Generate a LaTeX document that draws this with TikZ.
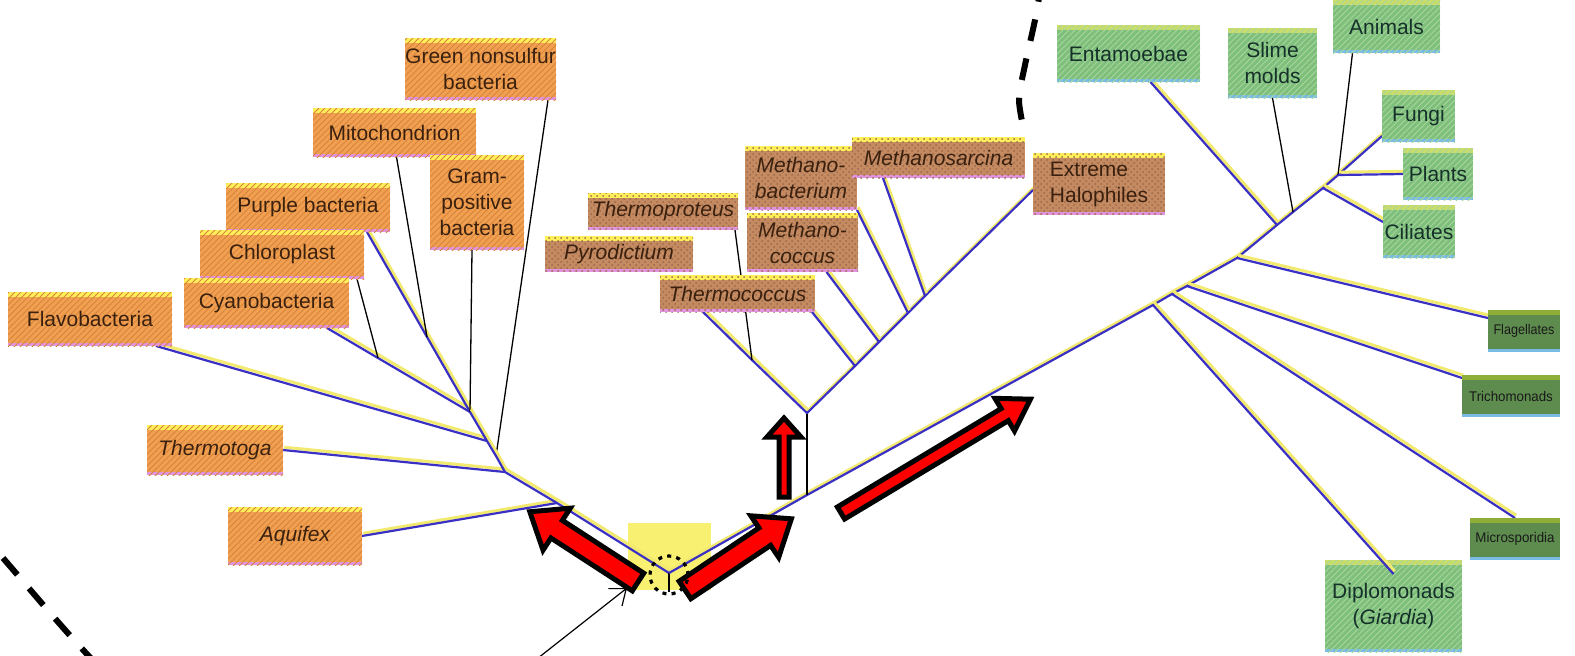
\documentclass[tikz,border=0pt]{standalone}
\usepackage{fontspec}
\setmainfont{Liberation Sans}
\usetikzlibrary{patterns,fit,arrows.meta,calc}
\pgfdeclarelayer{bg}
\pgfsetlayers{bg,main}
\definecolor{bfill}{HTML}{F0A050}
\definecolor{bhatch}{HTML}{D8843C}
\definecolor{afill}{HTML}{C48A62}
\definecolor{ahatch}{HTML}{9E6A48}
\definecolor{efill}{HTML}{7EBF7C}
\definecolor{ehatch}{HTML}{A8D69C}
\definecolor{dfill}{HTML}{5E8C4E}
\definecolor{topy}{HTML}{FFF05A}
\definecolor{botp}{HTML}{E094E0}
\definecolor{bote}{HTML}{78BCE4}
\definecolor{treeblue}{HTML}{3A30C4}
\definecolor{shadowy}{HTML}{F2EA6E}
\definecolor{rootyellow}{HTML}{F8F070}
\definecolor{txtb}{HTML}{3A200E}
\definecolor{txte}{HTML}{16302A}
\newcommand\lbl{\fontsize{10.5}{13}\selectfont}
\newcommand\redarrow[7]{%
  \begin{scope}[shift={(#1,#2)}, rotate=#3]
    \draw[bigarr] (0,-#5/2) -- ({#4-#7},-#5/2) -- ({#4-#7},-#6/2) -- (#4,0)
      -- ({#4-#7},#6/2) -- ({#4-#7},#5/2) -- (0,#5/2) -- cycle;
  \end{scope}}
\tikzset{
  boxbase/.style={inner sep=0pt, outer sep=0pt},
  stripes/.style 2 args={path picture={
      \fill[#1] (path picture bounding box.north west) rectangle ([yshift=-2.5pt]path picture bounding box.north east);
      \fill[#2] (path picture bounding box.south west) rectangle ([yshift=1.5pt]path picture bounding box.south east);}},
  bact/.style={boxbase, fill=bfill, postaction={pattern=north east lines, pattern color=bhatch}, stripes={topy}{botp}},
  arch/.style={boxbase, fill=afill, postaction={pattern=crosshatch dots, pattern color=ahatch}, stripes={topy}{botp}},
  euk/.style={boxbase, fill=efill, postaction={pattern=north east lines, pattern color=ehatch}, stripes={topy!60!efill}{bote}},
  dark/.style={boxbase, fill=dfill, stripes={dfill!70!yellow}{bote}},
  bt/.style={align=center, inner sep=0pt, font=\lbl, text=txtb},
  bti/.style={bt, font=\lbl\itshape},
  et/.style={align=center, inner sep=0pt, font=\lbl, text=txte},
  dt/.style={align=center, inner sep=0pt, font=\fontsize{7}{8}\selectfont, text=black!90},
  tb/.style={draw=treeblue, line width=1.1pt, line join=round,
    preaction={draw=shadowy, line width=1.5pt, transform canvas={xshift=0.6pt,yshift=1.4pt}}},
  tk/.style={draw=black, line width=0.65pt},
  bigarr/.style={fill=red, draw=black, line width=2.5pt, line join=miter},
  bigdash/.style={draw=black, line width=3pt, dash pattern=on 11pt off 9pt},
}
\begin{document}
\begin{tikzpicture}[x=0.5pt,y=-0.5pt]
\useasboundingbox (0,0) rectangle (1575,655);

% ---------- boxes: Bacteria ----------
\node[bact, fit={(405,38) (556,100)}, label={[bt]center:Green nonsulfur\\bacteria}] (gns) {};
\node[bact, fit={(313,108) (476,157)}, label={[bt]center:Mitochondrion}] (mito) {};
\node[bact, fit={(430,155) (524,250)}, label={[bt]center:Gram-\\positive\\bacteria}] (gram) {};
\node[bact, fit={(226,183) (390,232)}, label={[bt]center:Purple bacteria}] (purple) {};
\node[bact, fit={(200,230) (364,279)}, label={[bt]center:Chloroplast}] (chloro) {};
\node[bact, fit={(184,278) (349,328)}, label={[bt]center:Cyanobacteria}] (cyano) {};
\node[bact, fit={(8,292) (172,346)}, label={[bt]center:Flavobacteria}] (flavo) {};
\node[bact, fit={(147,425) (283,475)}, label={[bti]center:Thermotoga}] (tmtoga) {};
\node[bact, fit={(228,507) (362,565)}, label={[bti]center:Aquifex}] (aquifex) {};

% ---------- boxes: Archaea ----------
\node[arch, fit={(588,193) (738,230)}, label={[bti]center:Thermoproteus}] (tproteus) {};
\node[arch, fit={(545,236) (693,272)}, label={[bti]center:Pyrodictium}] (pyro) {};
\node[arch, fit={(660,275) (815,312)}, label={[bti]center:Thermococcus}] (tcoccus) {};
\node[arch, fit={(745,146) (857,210)}, label={[bti]center:Methano-\\bacterium}] (mbact) {};
\node[arch, fit={(747,213) (858,272)}, label={[bti]center:Methano-\\coccus}] (mcoccus) {};
\node[arch, fit={(852,137) (1025,178)}, label={[bti]center:Methanosarcina}] (msarc) {};
\node[arch, fit={(1033,153) (1165,215)}, label={[bt,align=left]center:Extreme\\Halophiles}] (halo) {};

% ---------- boxes: Eukarya ----------
\node[euk, fit={(1057,25) (1200,82)}, label={[et]center:Entamoebae}] (ent) {};
\node[euk, fit={(1228,28) (1317,98)}, label={[et]center:Slime\\molds}] (slime) {};
\node[euk, fit={(1333,0) (1440,53)}, label={[et]center:Animals}] (animals) {};
\node[euk, fit={(1382,90) (1455,142)}, label={[et]center:Fungi}] (fungi) {};
\node[euk, fit={(1403,148) (1473,200)}, label={[et]center:Plants}] (plants) {};
\node[euk, fit={(1383,205) (1455,258)}, label={[et]center:Ciliates}] (cil) {};
\node[dark, fit={(1488,310) (1560,352)}, label={[dt]center:\scalebox{0.9}[1]{Flagellates}}] (flag) {};
\node[dark, fit={(1462,375) (1560,417)}, label={[dt]center:\scalebox{0.95}[1]{Trichomonads}}] (tricho) {};
\node[dark, fit={(1470,518) (1560,560)}, label={[dt]center:\scalebox{0.95}[1]{Microsporidia}}] (micro) {};
\node[euk, fit={(1325,560) (1462,652)}, label={[et]center:Diplomonads\\(\textit{Giardia})}] (diplo) {};

% ---------- junctions ----------
\coordinate (R) at (669,573);
\coordinate (Rb) at (669,592);
\coordinate (J1) at (378,358);
\coordinate (J2) at (427,337);
\coordinate (J3) at (470,412);
\coordinate (J4) at (487,441);
\coordinate (J5) at (496,456);
\coordinate (J6) at (505,472);
\coordinate (J7) at (557,503);
\coordinate (AM) at (807,495);
\coordinate (A) at (807,413);
\coordinate (T1) at (752,360);
\coordinate (K1) at (855,366);
\coordinate (K2) at (879,342);
\coordinate (K3) at (908,313);
\coordinate (K4) at (925,296);
\coordinate (D1) at (1153,305);
\coordinate (D2) at (1172,294);
\coordinate (D3) at (1187,286);
\coordinate (D4) at (1237,258);
\coordinate (E1) at (1277,225);
\coordinate (E2) at (1293,212);
\coordinate (E3) at (1323,188);
\coordinate (E4) at (1338,175);

\begin{pgfonlayer}{bg}
  \fill[rootyellow] (628,523) rectangle (711,590);
  % bacteria
  \draw[tb] ([xshift=-8pt]flavo.south east) -- (J4);
  \draw[tb] ([xshift=-11pt]cyano.south east) -- (J1) -- (J3);
  \draw[tk] ([xshift=-3.5pt]chloro.south east) -- (J1);
  \draw[tb] ([xshift=-11.5pt]purple.south east) -- (J2) -- (J3);
  \draw[tk] ([xshift=1pt]mito.south) -- (J2);
  \draw[tk] ([xshift=-2.5pt]gram.south) -- (J3);
  \draw[tk] ([xshift=-4pt]gns.south east) -- (J5);
  \draw[tb] (tmtoga.east) -- (J6);
  \draw[tb] (aquifex.east) -- (J7);
  \draw[tb] (J3) -- (J4) -- (J5) -- (J6) -- (J7) -- (R);
  \draw[tk] (R) -- (Rb);
  % main line to eukarya
  \draw[tb] (R) -- (AM) -- (D1) -- (D2) -- (D3) -- (D4) -- (E1) -- (E2) -- (E3) -- (E4) -- ([yshift=3pt]fungi.south west);
  % archaea
  \draw[tk] (A) -- (AM);
  \draw[tb] ([xshift=21.5pt]tcoccus.south west) -- (T1) -- (A) -- (K1) -- (K2) -- (K3) -- (K4) -- ([yshift=-3pt]halo.west);
  \draw[tk] ([xshift=-1.5pt]tproteus.south east) -- (T1);
  \draw[tb] ([xshift=-1.5pt]tcoccus.south east) -- (K1);
  \draw[tb] ([xshift=12pt]mcoccus.south) -- (K2);
  \draw[tb] (mbact.south east) -- (K3);
  \draw[tb] ([xshift=15.5pt]msarc.south west) -- (K4);
  % eukarya
  \draw[tb] ([xshift=11pt]ent.south) -- (E1);
  \draw[tk] (slime.south) -- (E2);
  \draw[tk] ([xshift=-17pt]animals.south) -- (E4);
  \draw[tb] (E4) -- (plants.west);
  \draw[tb] (E3) -- ([yshift=4.75pt]cil.west);
  \draw[tb] (D4) -- ([yshift=-4pt]flag.north west);
  \draw[tb] (D3) -- ([yshift=-1.5pt]tricho.north west);
  \draw[tb] (D2) -- (micro.north);
\end{pgfonlayer}
\draw[tb] (D1) -- ([yshift=-7pt]diplo.north);

% ---------- red arrows ----------
\redarrow{638}{582}{147}{129}{21}{50}{32}
\redarrow{685}{590}{33.8}{128}{21}{50}{32}
\redarrow{784}{497}{90}{79}{10}{34}{19}
\redarrow{841}{513}{31}{221}{14}{38}{30}

% ---------- root marker ----------
\node[circle, draw=black, line width=1.6pt, dash pattern=on 2pt off 2.6pt, minimum size=19pt, inner sep=0pt] (rootc) at (669,575) {};
\coordinate (ptip) at (627,588);
\coordinate (ptail) at (533,662);
\draw[line width=0.6pt, -{Straight Barb[length=7pt,width=11pt]}] (ptail) -- (ptip);

% ---------- dashed boundary arcs ----------
\draw[bigdash] (3,558) .. controls (35,595) and (62,628) .. (100,668);
\draw[bigdash] plot[smooth] coordinates {(1042,-20) (1035,20) (1025,65) (1019,100) (1025,135)};
\end{tikzpicture}
\end{document}
